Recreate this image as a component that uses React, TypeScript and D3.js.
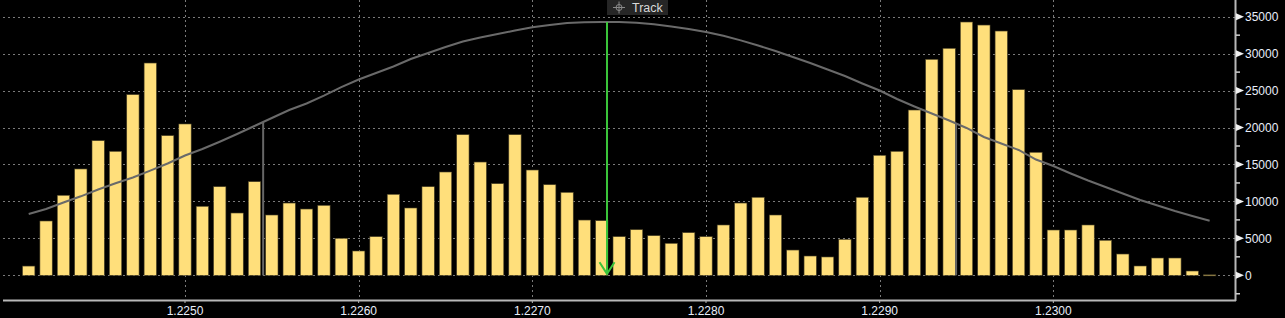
import React from "react";
import * as d3 from "d3";

const prices = [
  1.2241, 1.2242, 1.2243, 1.2244, 1.2245, 1.2246, 1.2247, 1.2248, 1.2249, 1.225,
  1.2251, 1.2252, 1.2253, 1.2254, 1.2255, 1.2256, 1.2257, 1.2258, 1.2259, 1.226,
  1.2261, 1.2262, 1.2263, 1.2264, 1.2265, 1.2266, 1.2267, 1.2268, 1.2269, 1.227,
  1.2271, 1.2272, 1.2273, 1.2274, 1.2275, 1.2276, 1.2277, 1.2278, 1.2279, 1.228,
  1.2281, 1.2282, 1.2283, 1.2284, 1.2285, 1.2286, 1.2287, 1.2288, 1.2289, 1.229,
  1.2291, 1.2292, 1.2293, 1.2294, 1.2295, 1.2296, 1.2297, 1.2298, 1.2299, 1.23,
  1.2301, 1.2302, 1.2303, 1.2304, 1.2305, 1.2306, 1.2307, 1.2308, 1.2309,
];

const volumes = [
  1250, 7350, 10830, 14390, 18220, 16780, 24450, 28730, 18900, 20480,
  9340, 11990, 8430, 12670, 8160, 9780, 8970, 9470, 5010, 3290,
  5230, 10960, 9110, 11990, 13980, 19030, 15330, 12400, 19030, 14250,
  12260, 11230, 7480, 7390, 5230, 6170, 5360, 4330, 5770, 5230,
  6810, 9780, 10560, 8160, 3420, 2610, 2480, 4870, 10560, 16240,
  16780, 22370, 29230, 30720, 34280, 33870, 33060, 25120, 16650, 6130,
  6130, 6810, 4740, 2880, 1260, 2340, 2340, 580, 60,
];

const curve = [
  8300, 8970, 9850, 10690, 11610, 12450, 13240, 14170, 15130, 16210,
  17090, 18080, 19120, 20210, 21290, 22370, 23250, 24330, 25480, 26500,
  27380, 28260, 29270, 30090, 30900, 31640, 32180, 32660, 33130, 33560,
  33870, 34150, 34240, 34280, 34280, 34190, 33970, 33670, 33330, 32930,
  32410, 31800, 31100, 30360, 29540, 28730, 27850, 26970, 25960, 25010,
  23860, 22850, 21900, 20950, 19940, 18720, 17840, 16960, 15670, 14790,
  13780, 12830, 11950, 11070, 10190, 9450, 8700, 8030, 7390,
];

const xTicks = [1.225, 1.226, 1.227, 1.228, 1.229, 1.23];
const yTicks = [0, 5000, 10000, 15000, 20000, 25000, 30000, 35000];
const yMinorTicks = [-2500, 2500, 7500, 12500, 17500, 22500, 27500, 32500];
const markerLines = [1.22545, 1.22944];
const trackPrice = 1.22743;
const trackLabel = "Track";

const W = 1285;
const H = 318;
const plotLeft = 3;
const plotRight = 1235;
const plotTop = 0;
const plotBottom = 300;

export default function App() {
  const x = d3.scaleLinear().domain([1.223952, 1.231046]).range([plotLeft, plotRight]);
  const y = d3.scaleLinear().domain([-3343, 37260]).range([plotBottom, plotTop]);
  const pitch = x(1.2251) - x(1.225);
  const bw = pitch * 0.71;
  const fmt = d3.format(".4f");

  const curvePts: [number, number][] = prices.map((p, i) => [p, curve[i]]);
  const line = d3
    .line<[number, number]>()
    .x((d) => x(d[0]))
    .y((d) => y(d[1]));
  const interp = (p: number) => {
    const i = d3.bisector((d: number) => d).right(prices, p) - 1;
    const t = (p - prices[i]) / (prices[i + 1] - prices[i]);
    return curve[i] + t * (curve[i + 1] - curve[i]);
  };

  const tx = x(trackPrice);
  const trackTop = y(interp(trackPrice));
  const base = y(0);
  const font = "'Liberation Sans', Arial, sans-serif";

  return (
    <svg
      width={W}
      height={H}
      style={{ position: "fixed", left: 0, top: 0, background: "#000", display: "block" }}
    >
      <rect x={0} y={0} width={W} height={H} fill="#000" />
      {/* grid */}
      {yTicks.map((t) => (
        <line
          key={"gy" + t}
          x1={plotLeft}
          x2={plotRight}
          y1={Math.round(y(t)) + 0.5}
          y2={Math.round(y(t)) + 0.5}
          stroke="#7a7a7a"
          strokeDasharray="2,3"
        />
      ))}
      {xTicks.map((t) => (
        <line
          key={"gx" + t}
          x1={Math.round(x(t)) + 0.5}
          x2={Math.round(x(t)) + 0.5}
          y1={plotTop}
          y2={plotBottom}
          stroke="#7a7a7a"
          strokeDasharray="2,3"
        />
      ))}
      {/* bars */}
      {prices.map((p, i) => (
        <rect
          key={"b" + i}
          x={x(p) - bw / 2}
          width={bw}
          y={y(volumes[i])}
          height={Math.max(1, base - y(volumes[i]))}
          fill="#ffdf7b"
          stroke="#4a4125"
          strokeWidth={0.6}
        />
      ))}
      {/* curve */}
      <path d={line(curvePts) || ""} fill="none" stroke="#6a6a6a" strokeWidth={2} />
      {markerLines.map((m) => (
        <line
          key={"m" + m}
          x1={x(m)}
          x2={x(m)}
          y1={y(interp(m))}
          y2={base}
          stroke="#666"
          strokeWidth={2}
        />
      ))}
      {/* track line */}
      <line x1={tx} x2={tx} y1={trackTop} y2={base - 1} stroke="#3ac43a" strokeWidth={2} />
      <polyline
        points={`${tx - 7.5},${base - 13} ${tx},${base - 1.5} ${tx + 7.5},${base - 13}`}
        fill="none"
        stroke="#3ac43a"
        strokeWidth={2}
      />
      {/* track label */}
      <rect x={tx} y={0} width={61} height={15} fill="#262626" />
      <g stroke="#8a8a8a" strokeWidth={1} fill="none">
        <circle cx={tx + 12} cy={7.5} r={3} />
        <line x1={tx + 6} x2={tx + 18} y1={7.5} y2={7.5} />
        <line x1={tx + 12} x2={tx + 12} y1={1.5} y2={13.5} />
      </g>
      <text x={tx + 25} y={12} fontFamily={font} fontSize={12.5} fill="#d8d8d8">
        {trackLabel}
      </text>
      {/* axes */}
      <line x1={plotLeft} x2={plotRight + 1} y1={plotBottom + 0.5} y2={plotBottom + 0.5} stroke="#b8b8b8" strokeWidth={2} />
      <line x1={plotRight + 0.5} x2={plotRight + 0.5} y1={0} y2={plotBottom + 1} stroke="#b8b8b8" strokeWidth={2} />
      {xTicks.map((t) => (
        <g key={"xt" + t}>
          <line x1={x(t)} x2={x(t)} y1={plotBottom} y2={plotBottom + 3} stroke="#b8b8b8" />
          <text
            x={x(t)}
            y={314.5}
            textAnchor="middle"
            fontFamily={font}
            fontSize={12}
            fill="#e8eefa"
          >
            {fmt(t)}
          </text>
        </g>
      ))}
      {yMinorTicks.map((t) => (
        <line
          key={"ym" + t}
          x1={plotRight + 1}
          x2={plotRight + 5}
          y1={y(t)}
          y2={y(t)}
          stroke="#cfcfcf"
          strokeWidth={1.5}
        />
      ))}
      {yTicks.map((t) => (
        <g key={"yt" + t}>
          <polygon
            points={`${plotRight + 1},${y(t) - 3.5} ${plotRight + 9},${y(t)} ${plotRight + 1},${y(t) + 3.5}`}
            fill="#f0f0f0"
          />
          <text
            x={plotRight + 10}
            y={y(t) + 4.5}
            fontFamily={font}
            fontSize={12}
            fill="#e8eefa"
          >
            {t}
          </text>
        </g>
      ))}
    </svg>
  );
}
